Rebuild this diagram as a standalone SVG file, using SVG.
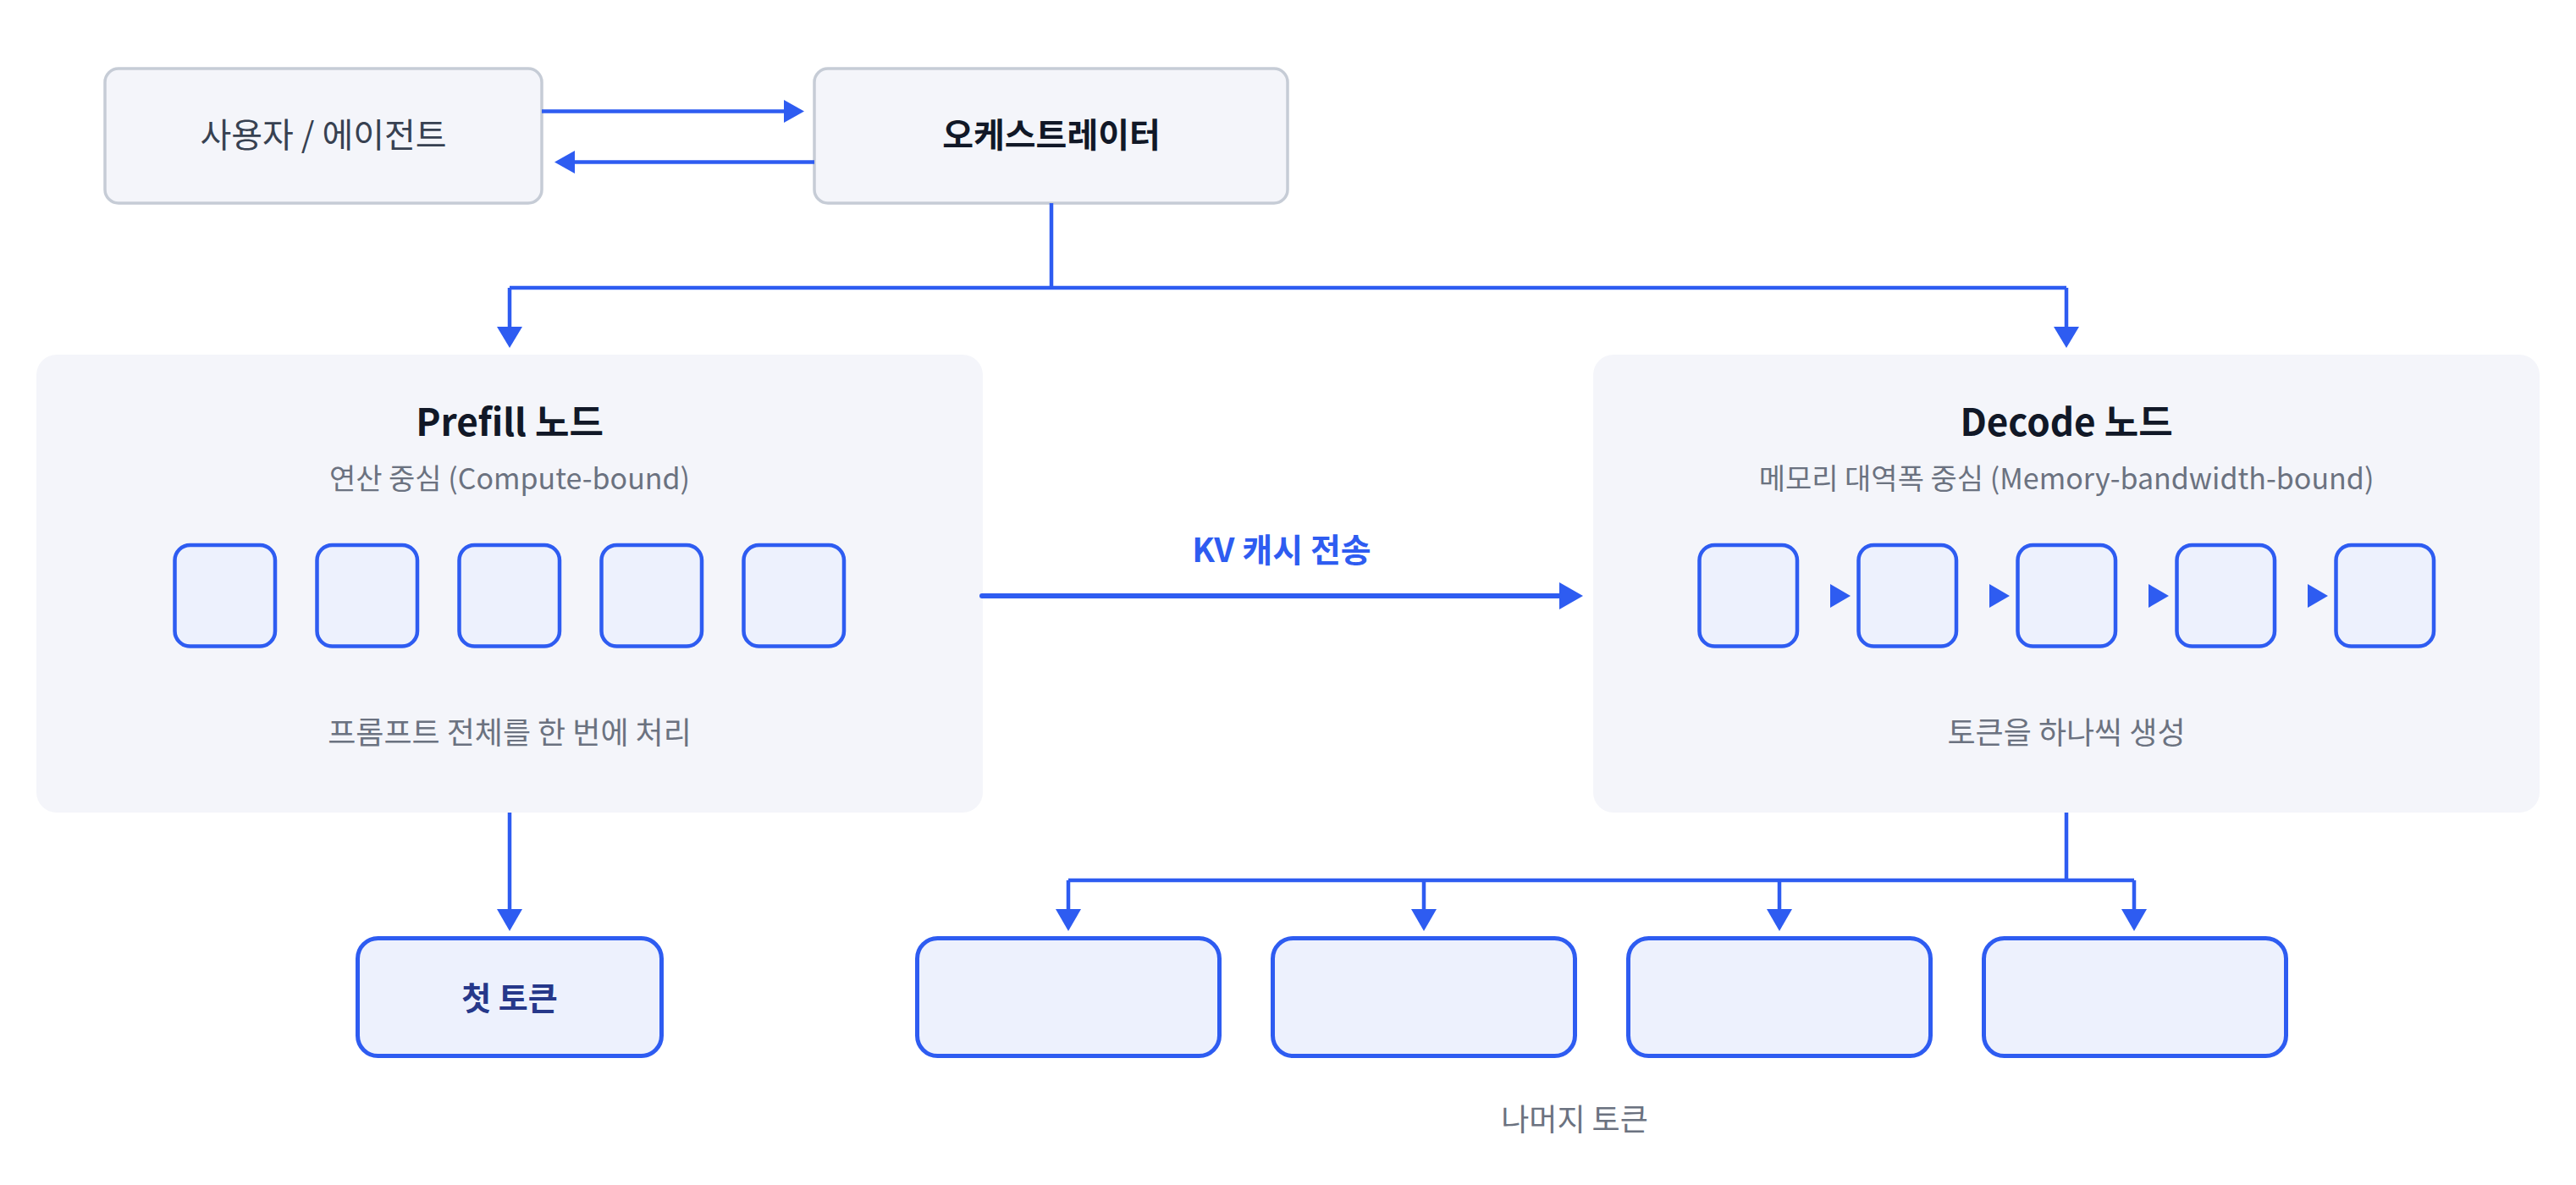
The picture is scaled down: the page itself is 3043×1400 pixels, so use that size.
<svg xmlns="http://www.w3.org/2000/svg" width="3043" height="1400" viewBox="0 0 3043 1400">
<defs>
<style>
text{font-family:"Noto Sans CJK KR","Noto Sans",sans-serif;text-anchor:middle}
.top{fill:#f4f5fa;stroke:#c6ccd6;stroke-width:3.5}
.panel{fill:#f4f5fa}
.cell{fill:#edf1fd;stroke:#2e5cf1;stroke-width:4.5}
.tok{fill:#edf1fd;stroke:#2e5cf1;stroke-width:5}
.ln{fill:none;stroke:#2e5cf1;stroke-width:4.5}
.ah{fill:#2e5cf1}
.title{font-size:44px;font-weight:700;fill:#111827}
.sub{font-size:34px;fill:#6b7280}
.note{font-size:36px;fill:#6b7280}
</style>
</defs>
<rect width="3043" height="1400" fill="#ffffff"/>

<g id="user">
<rect class="top" x="124" y="81" width="516" height="159" rx="16"/>
<text x="382" y="174" font-size="40" fill="#374151">사용자 / 에이전트</text>
</g>
<g id="orchestrator">
<rect class="top" x="962" y="81" width="559" height="159" rx="16"/>
<text x="1242" y="174" font-size="40" font-weight="700" fill="#111827">오케스트레이터</text>
</g>

<g id="prefill">
<rect class="panel" x="43" y="419" width="1118" height="541" rx="24"/>
<text class="title" x="602" y="515">Prefill 노드</text>
<text class="sub" x="602" y="578">연산 중심 (Compute-bound)</text>
<rect class="cell" x="206.5" y="644" width="118.5" height="119.5" rx="18"/>
<rect class="cell" x="374.5" y="644" width="118.5" height="119.5" rx="18"/>
<rect class="cell" x="542.5" y="644" width="118.5" height="119.5" rx="18"/>
<rect class="cell" x="710.5" y="644" width="118.5" height="119.5" rx="18"/>
<rect class="cell" x="878.5" y="644" width="118.5" height="119.5" rx="18"/>
<text class="note" x="602" y="879">프롬프트 전체를 한 번에 처리</text>
</g>

<g id="decode">
<rect class="panel" x="1882" y="419" width="1118" height="541" rx="24"/>
<text class="title" x="2441" y="515">Decode 노드</text>
<text class="sub" x="2441" y="578">메모리 대역폭 중심 (Memory-bandwidth-bound)</text>
<rect class="cell" x="2007.5" y="644" width="115.5" height="119.5" rx="18"/>
<rect class="cell" x="2195.5" y="644" width="115.5" height="119.5" rx="18"/>
<rect class="cell" x="2383.5" y="644" width="115.5" height="119.5" rx="18"/>
<rect class="cell" x="2571.5" y="644" width="115.5" height="119.5" rx="18"/>
<rect class="cell" x="2759.5" y="644" width="115.5" height="119.5" rx="18"/>
<path class="ah" d="M2162 690 L2186 704 L2162 718 Z"/>
<path class="ah" d="M2350 690 L2374 704 L2350 718 Z"/>
<path class="ah" d="M2538 690 L2562 704 L2538 718 Z"/>
<path class="ah" d="M2726 690 L2750 704 L2726 718 Z"/>
<text class="note" x="2441" y="879">토큰을 하나씩 생성</text>
</g>

<g id="first-token">
<rect class="tok" x="422.5" y="1108.5" width="359" height="139" rx="24"/>
<text x="602" y="1193" font-size="38" font-weight="700" fill="#26388a">첫 토큰</text>
</g>
<g id="token-1"><rect class="tok" x="1083.5" y="1108.5" width="357" height="139" rx="24"/></g>
<g id="token-2"><rect class="tok" x="1503.5" y="1108.5" width="357" height="139" rx="24"/></g>
<g id="token-3"><rect class="tok" x="1923.5" y="1108.5" width="357" height="139" rx="24"/></g>
<g id="token-4"><rect class="tok" x="2343.5" y="1108.5" width="357" height="139" rx="24"/></g>
<text class="note" x="1860" y="1336">나머지 토큰</text>

<g id="connectors">
<path class="ln" d="M640 131.5 H928"/>
<path class="ah" d="M926 118 L950 131.5 L926 145 Z"/>
<path class="ln" d="M962 191.5 H676"/>
<path class="ah" d="M679 178 L655 191.5 L679 205 Z"/>

<path class="ln" d="M1242 240 V340 M602 340 H2441 M602 340 V388 M2441 340 V388"/>
<path class="ah" d="M587 386 L602 411 L617 386 Z"/>
<path class="ah" d="M2426 386 L2441 411 L2456 386 Z"/>

<path d="M1160 704 H1845" fill="none" stroke="#2e5cf1" stroke-width="6" stroke-linecap="round"/>
<path class="ah" d="M1842 688 L1870 704 L1842 720 Z"/>
<text x="1514" y="664" font-size="39" font-weight="700" fill="#2e5cf1">KV 캐시 전송</text>

<path class="ln" d="M602 960 V1076"/>
<path class="ah" d="M587 1074 L602 1100 L617 1074 Z"/>

<path class="ln" d="M2441 960 V1040 M1262 1040 H2521 M1262 1040 V1076 M1682 1040 V1076 M2102 1040 V1076 M2521 1040 V1076"/>
<path class="ah" d="M1247 1074 L1262 1100 L1277 1074 Z"/>
<path class="ah" d="M1667 1074 L1682 1100 L1697 1074 Z"/>
<path class="ah" d="M2087 1074 L2102 1100 L2117 1074 Z"/>
<path class="ah" d="M2506 1074 L2521 1100 L2536 1074 Z"/>
</g>
</svg>
